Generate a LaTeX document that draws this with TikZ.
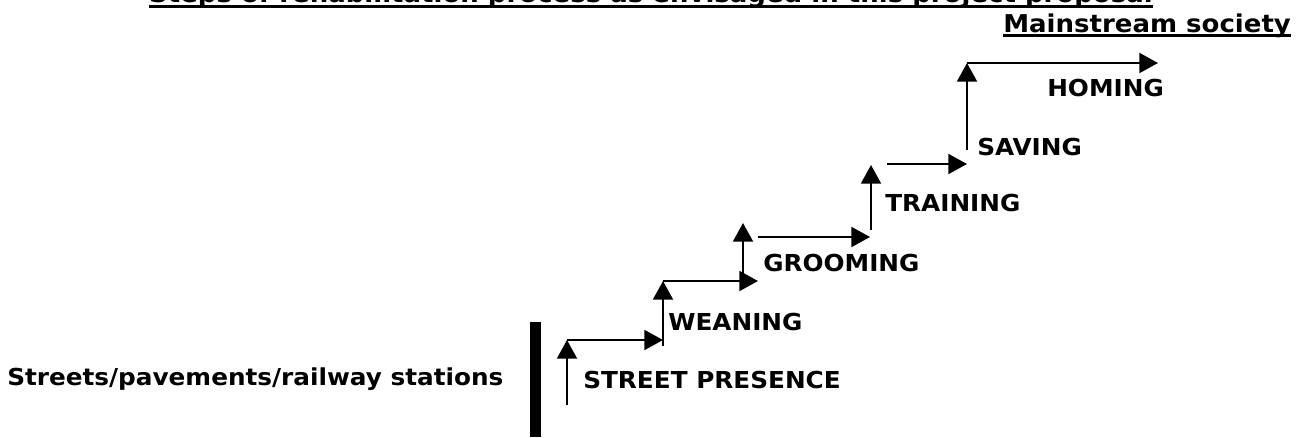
\documentclass[tikz,border=0pt]{standalone}
\usepackage{fontspec}
\setmainfont{DejaVu Sans}
\newfontfamily\stepfont{DejaVu Sans Bold}[FakeStretch=1.06]
\usepackage{tikz}
\usetikzlibrary{positioning,arrows.meta,calc}

\begin{document}
\begin{tikzpicture}[
      x=0.75pt, y=-0.75pt,
      lbl/.style={
        inner sep=0pt,
        anchor=base west,
        font=\stepfont\fontsize{17.5}{21}\selectfont,
      },
      head/.style={
        lbl,
        font=\stepfont\fontsize{18.4}{22}\selectfont,
      },
      stepline/.style={
        line width=1.5pt,
        -{Triangle[length=14pt,width=15pt]},
      },
      uline/.style={line width=2.2pt},
    ]
      \useasboundingbox (0,0) rectangle (1305,437);
      % labels
      \node[head, anchor=base east] (title) at (1153,2) {Steps of rehabilitation process as envisaged in this project proposal};
      \node[head] (main) at (1003,32) {Mainstream society};
      \node[lbl] (streets) at (7,385) {Streets/pavements/railway stations};
      \node[lbl] (presence) at (583,388) {STREET PRESENCE};
      \node[lbl] (weaning) at (668,330) {WEANING};
      \node[lbl] (grooming) at (763,271) {GROOMING};
      \node[lbl] (training) at (885,211) {TRAINING};
      \node[lbl] (saving) at (977,155) {SAVING};
      \node[lbl] (homing) at (1047,96) {HOMING};
      \draw[uline] ([yshift=-3.5pt]title.base west) -- ([yshift=-3.5pt]title.base east);
      \draw[uline] ([yshift=-2.5pt]main.base west) -- ([yshift=-2.5pt]main.base east);
      % the wall
      \fill (530,322) rectangle (541,437);
      % corners of the steps
      \coordinate (s1) at (567,405);
      \coordinate (c1) at (567,340);
      \coordinate (e1) at (663,340);
      \coordinate (s2) at (663,346);
      \coordinate (c2) at (663,281);
      \coordinate (e2) at (758,281);
      \coordinate (s3) at (743,275);
      \coordinate (c3) at (743,223);
      \coordinate (r3) at (758,237);
      \coordinate (e3) at (870,237);
      \coordinate (s4) at (871,230);
      \coordinate (c4) at (871,165);
      \coordinate (r4) at (887,164);
      \coordinate (e4) at (967,164);
      \coordinate (s5) at (967,150);
      \coordinate (c5) at (967,63);
      \coordinate (e5) at (1158,63);
      \draw[stepline] (s1) -- (c1);
      \draw[stepline] (c1) -- (e1);
      \draw[stepline] (s2) -- (c2);
      \draw[stepline] (c2) -- (e2);
      \draw[stepline] (s3) -- (c3);
      \draw[stepline] (r3) -- (e3);
      \draw[stepline] (s4) -- (c4);
      \draw[stepline] (r4) -- (e4);
      \draw[stepline] (s5) -- (c5);
      \draw[stepline] (c5) -- (e5);
    \end{tikzpicture}
\end{document}
